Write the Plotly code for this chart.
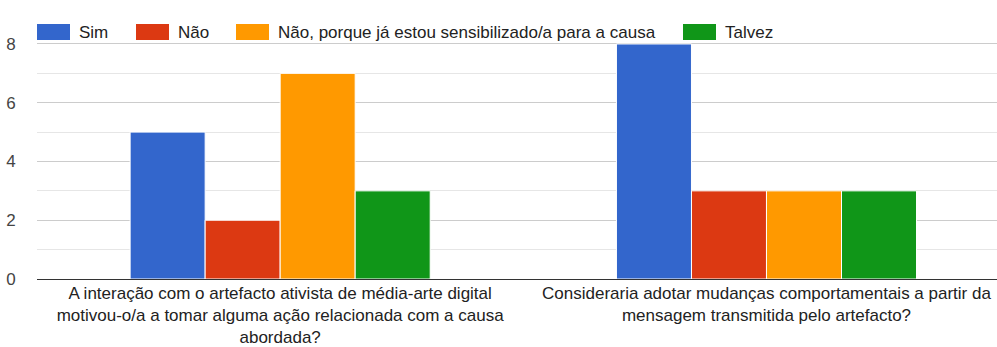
import plotly.graph_objects as go

# Survey answers per question
categories = [
    "A interação com o artefacto ativista de média-arte digital<br>"
    "motivou-o/a a tomar alguma ação relacionada com a causa<br>abordada?",
    "Consideraria adotar mudanças comportamentais a partir da<br>"
    "mensagem transmitida pelo artefacto?",
]
series_names = ["Sim", "Não", "Não, porque já estou sensibilizado/a para a causa", "Talvez"]
sim = [5, 8]
nao = [2, 3]
nao_sensibilizado = [7, 3]
talvez = [3, 3]
y_ticks = [0, 2, 4, 6, 8]

colors = ["#3366cc", "#dc3912", "#ff9900", "#109618"]
values = [sim, nao, nao_sensibilizado, talvez]

FONT = "Liberation Sans, Arial, sans-serif"
FS = 17
W, H = 997, 347
M_L, M_T, M_B = 37, 14, 66

fig = go.Figure()
for name, vals, col in zip(series_names, values, colors):
    fig.add_trace(go.Bar(
        name=name, x=categories, y=vals,
        marker=dict(color=col, line=dict(color="white", width=1)),
        showlegend=False,
        hovertemplate="%{y}<extra>" + name + "</extra>",
    ))

# Legend row above the bars: a wide colour swatch followed by its label
legend_x = [0, 99, 199, 646]
annotations = []
for lx, name, col in zip(legend_x, series_names, colors):
    annotations.append(dict(
        text="", xref="paper", yref="paper", x=0, y=1,
        xanchor="left", yanchor="middle", xshift=lx, yshift=-18,
        width=33, height=16, bgcolor=col, borderpad=0, borderwidth=0,
        showarrow=False,
    ))
    annotations.append(dict(
        text=name, xref="paper", yref="paper", x=0, y=1,
        xanchor="left", yanchor="middle", xshift=lx + 40, yshift=-18,
        showarrow=False, font=dict(family=FONT, size=FS, color="#222222"),
    ))

fig.update_layout(
    width=W, height=H,
    margin=dict(l=M_L, r=0, t=M_T, b=M_B, pad=0),
    paper_bgcolor="white", plot_bgcolor="white",
    barmode="group", bargap=0.383, bargroupgap=0,
    showlegend=False,
    annotations=annotations,
    font=dict(family=FONT, size=FS, color="#222222"),
    xaxis=dict(
        range=[-0.5, 1.474], showgrid=False, showline=False, zeroline=False,
        showdividers=False, mirror=False, ticks="", ticklabelstandoff=2,
        tickfont=dict(family=FONT, size=FS, color="#222222"),
    ),
    yaxis=dict(
        range=[0, 9.02], tickvals=y_ticks, ticktext=[str(v) for v in y_ticks],
        showgrid=True, gridcolor="#cccccc",
        minor=dict(dtick=2, tick0=1, showgrid=True, gridcolor="#e6e6e6"),
        zeroline=True, zerolinecolor="#333333", zerolinewidth=1,
        # plain white spine so the left edge of the plot stays clean
        showline=True, linecolor="white", linewidth=2, layer="above traces",
        mirror=False, ticks="", ticklabelstandoff=16,
        tickfont=dict(family=FONT, size=FS, color="#444444"),
    ),
)

fig.write_html("out.html")
